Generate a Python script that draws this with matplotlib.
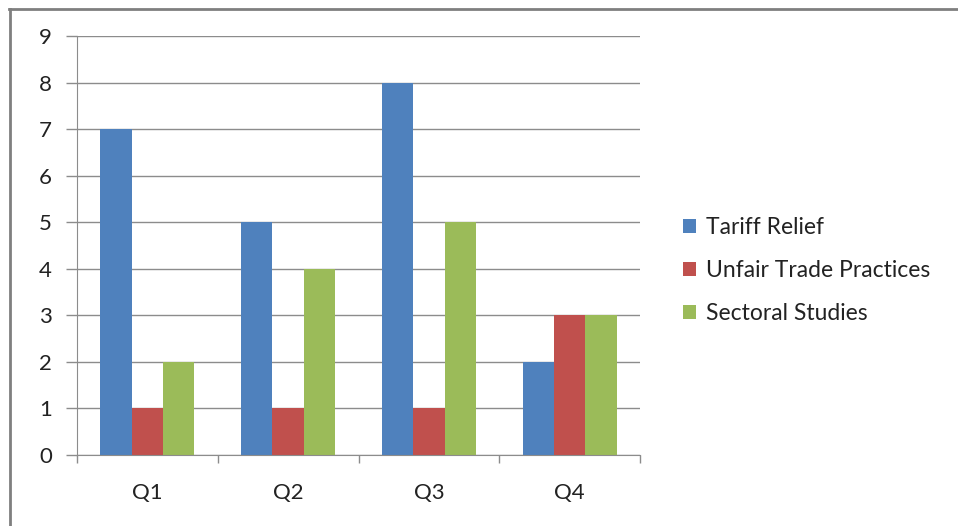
import numpy as np
import matplotlib.pyplot as plt
from matplotlib.lines import Line2D

plt.rcParams['font.family'] = ['Lato', 'DejaVu Sans']

quarters = ['Q1', 'Q2', 'Q3', 'Q4']
tariff_relief = [7, 5, 8, 2]
unfair_trade = [1, 1, 1, 3]
sectoral_studies = [2, 4, 5, 3]

series = [
    ('Tariff Relief', tariff_relief, '#4F81BD'),
    ('Unfair Trade Practices', unfair_trade, '#C0504D'),
    ('Sectoral Studies', sectoral_studies, '#9BBB59'),
]

fig = plt.figure(figsize=(9.58, 5.26), dpi=100)
ax = fig.add_axes([77 / 958, 1 - 455 / 526, (640 - 77) / 958, (455 - 36) / 526])

xy = np.arange(len(quarters))
w = 1 / 4.5
for i, (name, vals, col) in enumerate(series):
    ax.bar(xy + (i - 1) * w, vals, width=w, color=col, label=name, zorder=2)

ax.set_xlim(-0.5, len(quarters) - 0.5)
ax.set_ylim(0, 9)
ax.set_yticks(range(10))
ax.yaxis.grid(True, color='#8c8c8c', linewidth=1, zorder=0)
ax.set_axisbelow(True)

ax.set_xticks(xy)
ax.set_xticklabels(quarters)
ax.set_xticks(np.arange(len(quarters) + 1) - 0.5, minor=True)
ax.tick_params(axis='x', which='major', length=0, pad=20, labelsize=16, labelcolor='#222222')
ax.tick_params(axis='x', which='minor', length=6, color='#8c8c8c', width=1)
ax.tick_params(axis='y', length=8, color='#8c8c8c', width=1, pad=10, labelsize=16, labelcolor='#222222')

for s in ['top', 'right']:
    ax.spines[s].set_visible(False)
for s in ['left', 'bottom']:
    ax.spines[s].set_color('#8c8c8c')

leg = ax.legend(loc='center left', bbox_to_anchor=(1.04, 0.44), frameon=False,
                fontsize=16.5, handlelength=0.55, handleheight=0.55, handletextpad=0.45,
                labelspacing=0.95)
for t in leg.get_texts():
    t.set_color('#222222')

# outer chart border (top and left visible)
fig.add_artist(Line2D([9 / 958, 1], [1 - 9 / 526] * 2, transform=fig.transFigure,
                      color='#7f7f7f', linewidth=2))
fig.add_artist(Line2D([9.5 / 958] * 2, [0, 1 - 9 / 526], transform=fig.transFigure,
                      color='#7f7f7f', linewidth=2))

plt.savefig('out.png', format='png')
